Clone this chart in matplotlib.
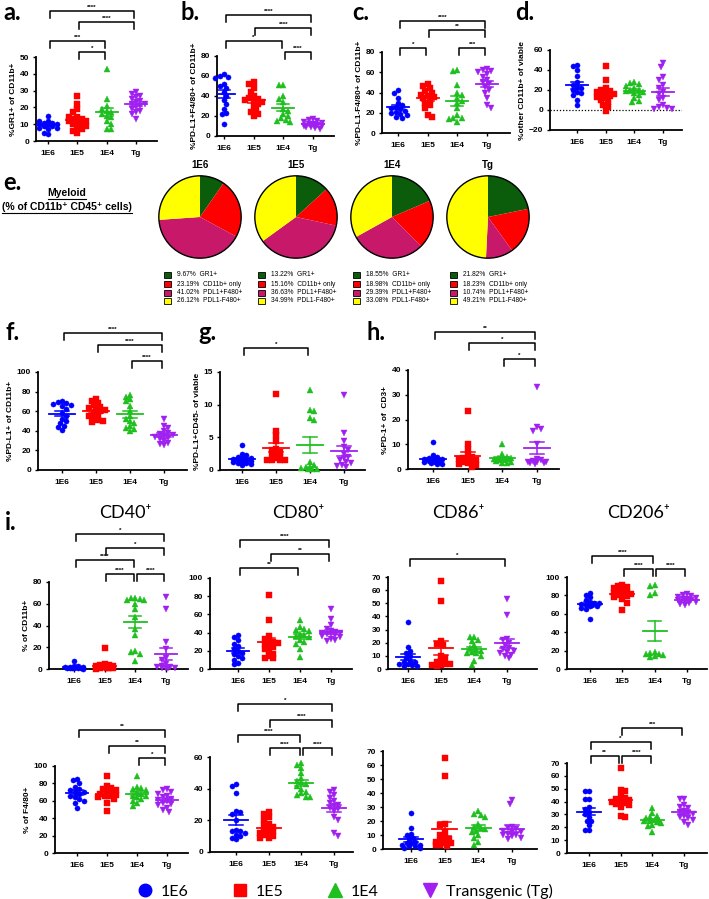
import numpy as np
import matplotlib
matplotlib.use('Agg')
import matplotlib.pyplot as plt
from matplotlib.lines import Line2D
from matplotlib.patches import Rectangle, Ellipse
import matplotlib.transforms as mtransforms

# ---------------- data ----------------
groups = ['1E6', '1E5', '1E4', 'Tg']
legend_labels = ['1E6', '1E5', '1E4', 'Transgenic (Tg)']
colors = ['#0000ff', '#ff0000', '#1fbf1f', '#a020f0']
markers = ['o', 's', '^', 'v']

# a. %GR1+ of CD11b+
A_1E6 = [15, 12, 11, 11, 10, 10, 10, 9, 9, 9, 8, 8, 7, 5, 4, 12]
A_1E5 = [27, 22, 19, 17, 14, 13, 13, 12, 12, 11, 11, 10, 9, 8, 7, 6, 5, 14]
A_1E4 = [43, 25, 21, 19, 18, 17, 16, 15, 14, 12, 10, 7, 7]
A_TG = [29, 28, 27, 26, 25, 24, 23, 22, 22, 21, 20, 19, 18, 17, 16, 13]
# b. %PD-L1+F4/80+ of CD11b+
B_1E6 = [62, 60, 59, 58, 52, 50, 48, 44, 40, 36, 32, 27, 23, 22, 12]
B_1E5 = [54, 52, 48, 44, 40, 38, 37, 36, 35, 34, 32, 30, 26, 24, 22, 20]
B_1E4 = [51, 51, 40, 37, 34, 27, 25, 22, 20, 18, 16, 15, 14]
B_TG = [17, 16, 15, 14, 13, 12, 12, 11, 10, 10, 9, 8, 7, 9, 11]
# c. %PD-L1-F4/80+ of CD11b+
C_1E6 = [42, 40, 35, 30, 28, 26, 25, 24, 22, 21, 20, 19, 18, 16, 15]
C_1E5 = [48, 46, 44, 41, 40, 38, 37, 36, 35, 33, 30, 28, 25, 18, 16]
C_1E4 = [62, 61, 47, 40, 38, 35, 32, 30, 25, 18, 15, 15, 11, 14]
C_TG = [63, 62, 61, 60, 58, 55, 52, 50, 48, 45, 42, 40, 35, 28, 25]
# d. %other CD11b+ of viable
D_1E6 = [45, 44, 40, 34, 28, 25, 23, 22, 20, 18, 17, 15, 10, 5]
D_1E5 = [44, 30, 22, 20, 19, 18, 17, 16, 15, 14, 13, 12, 10, 8, 5, 3, -1, 16]
D_1E4 = [28, 27, 26, 24, 22, 20, 20, 19, 18, 17, 15, 12, 9, 8]
D_TG = [47, 43, 33, 30, 25, 22, 18, 16, 12, 10, 5, 3, 2, 1, 1]
# e. pies
pie_titles = ['1E6', '1E5', '1E4', 'Tg']
pie_categories = ['GR1+', 'CD11b+ only', 'PDL1+F480+', 'PDL1-F480+']
pie_colors = ['#0b5d0b', '#ff0000', '#c8186a', '#ffff00']
PIE_1E6 = [9.67, 23.19, 41.02, 26.12]
PIE_1E5 = [13.22, 15.16, 36.63, 34.99]
PIE_1E4 = [18.55, 18.98, 29.39, 33.08]
PIE_TG = [21.82, 18.23, 10.74, 49.21]
# f. %PD-L1+ of CD11b+
F_1E6 = [70, 69, 68, 67, 66, 65, 62, 58, 55, 52, 50, 48, 45, 44, 41]
F_1E5 = [72, 70, 68, 66, 64, 63, 62, 61, 60, 58, 56, 55, 53, 51, 50, 49]
F_1E4 = [77, 75, 72, 70, 65, 60, 55, 52, 50, 48, 45, 43, 42, 40]
F_TG = [52, 45, 43, 40, 38, 37, 36, 35, 34, 33, 32, 30, 28, 27, 25]
# g. %PD-L1+CD45- of viable
G_1E6 = [3.9, 2.5, 2.3, 2.0, 1.9, 1.8, 1.7, 1.6, 1.5, 1.4, 1.3, 1.2, 1.1, 1.0, 0.9, 0.8]
G_1E5 = [11.7, 6.0, 5.3, 4.5, 3.2, 3.0, 2.8, 2.5, 2.3, 2.0, 1.8, 1.6, 1.6, 1.5, 1.5]
G_1E4 = [12.2, 9.2, 9.1, 8.0, 7.6, 1.2, 0.8, 0.5, 0.4, 0.3, 0.2, 0.2, 0.1]
G_TG = [11.5, 5.6, 4.5, 3.5, 3.0, 2.5, 2.0, 1.8, 1.5, 1.2, 1.0, 0.8, 0.6, 0.5]
# h. %PD-1+ of CD3+
H_1E6 = [11, 5.5, 5, 4.5, 4, 4, 3.8, 3.5, 3.2, 3, 3, 2.8, 2.5, 2.2, 2]
H_1E5 = [23.5, 10, 8, 6, 5, 4.5, 4, 4, 3.5, 3, 3, 2.5, 2, 1.5, 1]
H_1E4 = [10, 6, 5, 4.5, 4.5, 4, 4, 4, 3.8, 3.5, 3.2, 3, 2.5, 2.5]
H_TG = [33, 17, 16, 15.5, 10, 4, 3.5, 3.2, 3, 3, 2.8, 2.5, 2.5, 2]
# i. row 1: % of CD11b+
CD40_1E6 = [7.5, 3, 2.5, 2, 2, 1.5, 1.5, 1, 1, 1, 0.8, 0.5, 0.5, 0.3]
CD40_1E5 = [19, 5, 4, 3.5, 3, 2.5, 2, 2, 1.5, 1.5, 1, 1, 0.5, 0.5, 0.3]
CD40_1E4 = [65, 65, 64, 63, 63, 60, 55, 48, 37, 31, 17, 16, 14, 7]
CD40_TG = [66, 55, 25, 18, 10, 8, 5, 3, 2, 1.5, 1, 1, 0.5, 0.5]
CD80_1E6 = [37, 35, 32, 28, 25, 22, 20, 18, 16, 14, 12, 10, 7, 5]
CD80_1E5 = [81, 54, 36, 33, 31, 30, 29, 28, 26, 24, 22, 20, 17, 14, 12, 12]
CD80_1E4 = [54, 46, 44, 43, 42, 38, 37, 36, 35, 32, 30, 28, 22, 13]
CD80_TG = [66, 55, 48, 44, 42, 41, 40, 40, 39, 38, 37, 36, 35, 33, 32, 31]
CD86_1E6 = [36, 17, 14, 12, 10, 8, 6, 5, 5, 4, 4, 3, 2, 2]
CD86_1E5 = [67, 52, 21, 19, 18, 10, 8, 6, 5, 4, 4, 3, 3, 2]
CD86_1E4 = [24, 24, 22, 21, 18, 16, 15, 14, 13, 12, 12, 10, 6, 3]
CD86_TG = [53, 41, 23, 22, 20, 18, 16, 15, 14, 13, 12, 11, 10, 8]
CD206_1E6 = [83, 80, 78, 75, 73, 72, 72, 71, 70, 70, 69, 68, 66, 65, 54]
CD206_1E5 = [91, 90, 89, 88, 86, 85, 84, 83, 82, 81, 80, 79, 78, 76, 72, 64]
CD206_1E4 = [91, 90, 83, 80, 18, 17, 16, 16, 15, 14, 13]
CD206_TG = [81, 80, 79, 78, 77, 76, 76, 75, 75, 74, 73, 72, 71, 70]
# i. row 2: % of F4/80+
F480_CD40_1E6 = [85, 84, 80, 76, 74, 72, 70, 70, 68, 66, 64, 62, 60, 58, 52]
F480_CD40_1E5 = [89, 77, 75, 73, 72, 70, 69, 68, 67, 66, 65, 64, 62, 58, 48]
F480_CD40_1E4 = [88, 76, 75, 73, 72, 70, 68, 66, 65, 64, 62, 60, 58, 54]
F480_CD40_TG = [73, 72, 70, 68, 66, 64, 62, 61, 60, 58, 56, 55, 52, 50, 47]
F480_CD80_1E6 = [43, 42, 37, 26, 25, 24, 20, 14, 13, 13, 12, 11, 10, 9, 8]
F480_CD80_1E5 = [25, 24, 22, 20, 18, 17, 16, 15, 14, 13, 12, 12, 11, 10, 9, 9]
F480_CD80_1E4 = [56, 55, 53, 50, 47, 45, 44, 43, 42, 40, 38, 37, 36, 35, 35]
F480_CD80_TG = [39, 38, 36, 34, 32, 31, 30, 29, 28, 27, 26, 22, 20, 12, 10]
F480_CD86_1E6 = [26, 15, 11, 10, 8, 7, 5, 4, 4, 3, 3, 2, 2, 1, 1]
F480_CD86_1E5 = [65, 52, 18, 17, 12, 10, 8, 7, 6, 5, 4, 4, 3, 3, 2]
F480_CD86_1E4 = [27, 25, 24, 23, 18, 16, 15, 14, 13, 12, 10, 8, 5, 3]
F480_CD86_TG = [35, 32, 16, 15, 14, 13, 12, 12, 11, 10, 10, 9, 8, 7]
F480_CD206_1E6 = [48, 48, 42, 42, 36, 34, 32, 30, 28, 25, 25, 22, 18, 18]
F480_CD206_1E5 = [66, 49, 48, 44, 43, 42, 41, 40, 40, 39, 38, 37, 36, 29, 28]
F480_CD206_1E4 = [35, 31, 29, 28, 27, 26, 26, 25, 25, 24, 23, 22, 21, 16]
F480_CD206_TG = [42, 42, 37, 36, 35, 33, 32, 31, 30, 29, 28, 27, 26, 24, 22]

# ---------------- figure ----------------
W, H = 709, 899
fig = plt.figure(figsize=(W / 100, H / 100), dpi=100)
plt.rcParams['font.family'] = ['Liberation Sans', 'DejaVu Sans']
CAL = ['Lato', 'DejaVu Sans']


def fy(y):
    return 1 - y / H


def swarm(vals, ypx, xpx, d=4.4, maxoff=10.5):
    placed = []
    xs = []
    step = d / 2.0
    for idx, v in enumerate(vals):
        y = v * ypx
        cands = [0.0]
        for k in range(1, 8):
            sgn = 1 if idx % 2 == 0 else -1
            cands += [sgn * k * step, -sgn * k * step]
        cands = [c for c in cands if abs(c) <= maxoff]
        best, bestd = None, -1
        for c in cands:
            md = min([np.hypot(c - px, y - py) for px, py in placed] + [99])
            if md >= d:
                best = c
                break
            if md > bestd:
                bestd, best = md, c
        placed.append((best, y))
        xs.append(best / xpx)
    return np.array(xs)


def panel(box, ylim, ystep, datasets, ylabel=None, brackets=(), zero_line=False):
    L, R, yt, yb, t0, t3 = box
    ax = fig.add_axes([L / W, fy(yb), (R - L) / W, (yb - yt) / H])
    s = (t3 - t0) / 3.0
    ypx = (yb - yt) / (ylim[1] - ylim[0])
    for i, vals in enumerate(datasets):
        vals = np.asarray(vals, float)
        offs = swarm(vals, ypx, s)
        ms = 4.3 if markers[i] in ('^', 'v') else 3.7
        ax.plot(i + offs, vals, ls='none', marker=markers[i], ms=ms,
                color=colors[i], mec=colors[i], mew=0.3, clip_on=False, zorder=3)
        m = vals.mean()
        se = vals.std(ddof=1) / np.sqrt(len(vals))
        ax.plot([i - 0.37, i + 0.37], [m, m], color=colors[i], lw=1.3, zorder=4)
        ax.plot([i, i], [m - se, m + se], color=colors[i], lw=1.1, zorder=4)
        for e in (m - se, m + se):
            ax.plot([i - 0.2, i + 0.2], [e, e], color=colors[i], lw=1.1, zorder=4)
    if zero_line:
        ax.axhline(0, color='black', ls=(0, (1, 1.5)), lw=0.9)
    ax.set_xlim((L - t0) / s, (R - t0) / s)
    ax.set_ylim(ylim)
    ax.set_yticks(np.arange(ylim[0], ylim[1] + 0.001, ystep))
    ax.set_xticks(range(4))
    ax.set_xticklabels(groups)
    for sp in ('top', 'right'):
        ax.spines[sp].set_visible(False)
    for sp in ('left', 'bottom'):
        ax.spines[sp].set_linewidth(1.3)
    ax.tick_params(axis='both', length=2.5, width=1.0, labelsize=6, pad=2.5)
    ax.tick_params(axis='x', pad=4)
    for lab in ax.get_xticklabels() + ax.get_yticklabels():
        lab.set_fontweight('bold')
    if ylabel:
        ax.set_ylabel(ylabel, fontsize=6, fontweight='bold', labelpad=2)
    tr = mtransforms.blended_transform_factory(ax.transData, fig.transFigure)
    inset = 1.6 / s
    leg = 7.0 / H
    for (i, j, ypix, lab) in brackets:
        x1, x2 = i + inset, j - inset
        yf = fy(ypix)
        ax.plot([x1, x1, x2, x2], [yf - leg, yf, yf, yf - leg], transform=tr,
                color='black', lw=1.1, clip_on=False)
        ax.text((i + j) / 2.0, yf + 1.5 / H, lab, transform=tr, ha='center',
                va='bottom', fontsize=4.5, fontweight='bold')
    return ax


# top row
panel((36, 157, 57, 141, 48, 136), (0, 50), 10, [A_1E6, A_1E5, A_1E4, A_TG],
      '%GR1+ of CD11b+',
      [(0, 3, 11, '****'), (1, 3, 22, '****'), (0, 2, 41, '***'), (1, 2, 52, '*')])
panel((217, 334, 56, 136, 224, 313), (0, 80), 20, [B_1E6, B_1E5, B_1E4, B_TG],
      '%PD-L1+F4/80+ of CD11b+',
      [(0, 3, 15, '****'), (1, 3, 28, '****'), (0, 2, 41, '*'), (2, 3, 52, '****')])
panel((382, 510, 52, 133, 398, 487), (0, 80), 20, [C_1E6, C_1E5, C_1E4, C_TG],
      '%PD-L1-F4/80+ of CD11b+',
      [(0, 3, 21, '****'), (1, 3, 30, '**'), (0, 1, 48, '*'), (2, 3, 48, '***')])
panel((550, 682, 50, 130, 577, 663), (-20, 60), 20, [D_1E6, D_1E5, D_1E4, D_TG],
      '%other CD11b+ of viable', [], zero_line=True)

# middle row
panel((38, 187, 372, 470, 62, 164), (0, 100), 20, [F_1E6, F_1E5, F_1E4, F_TG],
      '%PD-L1+ of CD11b+',
      [(0, 3, 333, '****'), (1, 3, 345, '****'), (2, 3, 361, '****')])
panel((220, 365, 372, 470, 242, 344), (0, 15), 5, [G_1E6, G_1E5, G_1E4, G_TG],
      '%PD-L1+CD45- of viable', [(0, 2, 348, '*')])
panel((408, 559, 370, 469, 433, 537), (0, 40), 10, [H_1E6, H_1E5, H_1E4, H_TG],
      '%PD-1+ of  CD3+',
      [(0, 3, 332, '**'), (1, 3, 343, '*'), (2, 3, 359, '*')])

# i row 1
panel((49, 188, 582, 669, 74, 166), (0, 80), 20, [CD40_1E6, CD40_1E5, CD40_1E4, CD40_TG],
      '% of CD11b+',
      [(0, 3, 534, '*'), (1, 3, 548, '*'), (0, 2, 560, '****'), (1, 2, 574, '****'),
       (2, 3, 574, '****')])
panel((210, 352, 578, 669, 238, 331), (0, 100), 20, [CD80_1E6, CD80_1E5, CD80_1E4, CD80_TG],
      None, [(0, 3, 540, '****'), (1, 3, 554, '**'), (0, 2, 568, '**')])
panel((388, 537, 577, 669, 408, 507), (0, 70), 10, [CD86_1E6, CD86_1E5, CD86_1E4, CD86_TG],
      None, [(0, 3, 559, '*')])
panel((567, 707, 577, 669, 590, 687), (0, 100), 20,
      [CD206_1E6, CD206_1E5, CD206_1E4, CD206_TG], None,
      [(0, 2, 556, '****'), (1, 2, 569, '****'), (2, 3, 569, '****')])

# i row 2
panel((55, 188, 766, 853, 77, 167), (0, 100), 20,
      [F480_CD40_1E6, F480_CD40_1E5, F480_CD40_1E4, F480_CD40_TG], '% of F4/80+',
      [(0, 3, 730, '**'), (1, 3, 746, '**'), (2, 3, 758, '*')])
panel((210, 353, 757, 852, 236, 334), (0, 60), 20,
      [F480_CD80_1E6, F480_CD80_1E5, F480_CD80_1E4, F480_CD80_TG], None,
      [(0, 3, 704, '*'), (1, 3, 720, '****'), (0, 2, 735, '****'), (1, 2, 748, '****'),
       (2, 3, 748, '****')])
panel((383, 537, 751, 849, 411, 512), (0, 70), 10,
      [F480_CD86_1E6, F480_CD86_1E5, F480_CD86_1E4, F480_CD86_TG], None, [])
panel((567, 707, 763, 853, 589, 684), (0, 70), 10,
      [F480_CD206_1E6, F480_CD206_1E5, F480_CD206_1E4, F480_CD206_TG], None,
      [(1, 3, 728, '***'), (0, 2, 742, '*'), (0, 1, 756, '**'), (1, 2, 756, '****')])

# ---------------- pies (e) ----------------
pie_data = [PIE_1E6, PIE_1E5, PIE_1E4, PIE_TG]
pie_cx = [200, 296, 392, 488]
pie_cy, pie_r = 217, 42
leg_x = [164, 258, 353, 450]
leg_rows = [275, 284, 293, 301]
for k, vals in enumerate(pie_data):
    cx = pie_cx[k]
    ax = fig.add_axes([(cx - pie_r) / W, fy(pie_cy + pie_r), 2 * pie_r / W, 2 * pie_r / H])
    ax.pie(vals, colors=pie_colors, startangle=90, counterclock=False,
           wedgeprops=dict(linewidth=0))
    ax.add_patch(Ellipse((0, 0), 2, 2, fill=False, edgecolor='black', lw=1.0))
    ax.set_xlim(-1.02, 1.02)
    ax.set_ylim(-1.02, 1.02)
    ax.set_aspect('auto')
    ax.axis('off')
    fig.text(cx / W, fy(165), pie_titles[k], ha='center', va='center',
             fontsize=7, fontweight='bold')
    for r, (v, cat) in enumerate(zip(vals, pie_categories)):
        yrow = leg_rows[r]
        fig.patches.append(Rectangle((leg_x[k] / W, fy(yrow + 3)), 6.5 / W, 6 / H,
                                     transform=fig.transFigure, facecolor=pie_colors[r],
                                     edgecolor='black', lw=0.6))
        fig.text((leg_x[k] + 13) / W, fy(yrow), f'{v:.2f}%  {cat}', ha='left',
                 va='center', fontsize=4.8)

t1 = fig.text(67 / W, fy(193), 'Myeloid', ha='center', va='center', fontsize=7.5,
              fontweight='bold')
t2 = fig.text(67 / W, fy(207), '(% of CD11b\u207a CD45\u207a cells)', ha='center',
              va='center', fontsize=7.5, fontweight='bold')
fig.canvas.draw()
rend = fig.canvas.get_renderer()
for t in (t1, t2):
    bb = t.get_window_extent(renderer=rend)
    yline = (bb.y0 - 1) / fig.bbox.height
    fig.lines.append(Line2D([bb.x0 / fig.bbox.width, bb.x1 / fig.bbox.width], [yline, yline],
                            transform=fig.transFigure, color='black', lw=0.8))

# ---------------- panel letters & titles ----------------
letters = [('a.', 3, 13), ('b.', 180, 13), ('c.', 352, 13), ('d.', 515, 13),
           ('e.', 3, 182), ('f.', 5, 333), ('g.', 198, 333), ('h.', 367, 333),
           ('i.', 5, 522)]
for txt, x, y in letters:
    fig.text(x / W, fy(y), txt, ha='left', va='center', fontsize=17, fontweight='bold',
             family=CAL)

titles = [('CD40\u207a', 125), ('CD80\u207a', 298), ('CD86\u207a', 458), ('CD206\u207a', 638)]
for txt, x in titles:
    fig.text(x / W, fy(513), txt, ha='center', va='center', fontsize=13, family=CAL)

# ---------------- bottom legend ----------------
handles = [Line2D([], [], ls='none', marker=markers[i], color=colors[i], ms=10 if i > 1 else 9)
           for i in range(4)]
fig.legend(handles, legend_labels, loc='center', bbox_to_anchor=(0.485, fy(891)), ncol=4,
           frameon=False, prop={'family': CAL, 'size': 11.5}, handletextpad=0.4,
           columnspacing=2.6, borderaxespad=0, borderpad=0, handlelength=1.2)

fig.savefig('out.png', dpi=100)
